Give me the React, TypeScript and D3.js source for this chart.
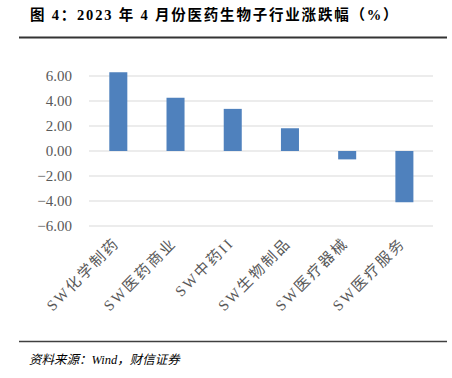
import React from "react";
import * as d3 from "d3";

const categories = ["SW化学制药", "SW医药商业", "SW中药II", "SW生物制品", "SW医疗器械", "SW医疗服务"];
const values = [6.3, 4.26, 3.37, 1.82, -0.67, -4.1];
const yTicks = [6, 4, 2, 0, -2, -4, -6];
const titleText = "图 4：2023 年 4 月份医药生物子行业涨跌幅（%）";
const sourceText = "资料来源：Wind，财信证券";

const W = 452;
const H = 378;

export default function App() {
  const x = d3
    .scaleBand<string>()
    .domain(categories)
    .range([89.7, 433])
    .paddingInner(0.685)
    .paddingOuter(0.3425);
  const y = d3.scaleLinear().domain([-6, 6]).range([226, 76]);
  const serif = "Liberation Serif, DejaVu Serif, Noto Sans CJK SC, serif";
  const grey = "#595959";

  return (
    <svg
      width={W}
      height={H}
      style={{ position: "absolute", left: 0, top: 0, background: "#fff" }}
      xmlns="http://www.w3.org/2000/svg"
    >
      <text
        x={30}
        y={20}
        fontFamily={serif}
        fontWeight="bold"
        fontSize={14.5}
        letterSpacing={1.8}
        fill="#000"
      >
        {titleText}
      </text>
      <line x1={19} x2={447} y1={37.5} y2={37.5} stroke="#333" strokeWidth={2} />

      {yTicks.map((t) => (
        <g key={t}>
          <line
            x1={89}
            x2={433}
            y1={y(t)}
            y2={y(t)}
            stroke="#D9D9D9"
            strokeWidth={1}
          />
          <text
            x={72}
            y={y(t)}
            dy="0.35em"
            textAnchor="end"
            fontFamily={serif}
            fontSize={15}
            fill={grey}
          >
            {d3.format(".2f")(t)}
          </text>
        </g>
      ))}

      {categories.map((c, i) => {
        const v = values[i];
        const x0 = x(c) as number;
        return (
          <rect
            key={c}
            x={x0}
            width={x.bandwidth()}
            y={Math.min(y(v), y(0))}
            height={Math.abs(y(v) - y(0))}
            fill="#4F81BD"
          />
        );
      })}

      {categories.map((c) => {
        const cx = (x(c) as number) + x.bandwidth() / 2;
        const ay = 244;
        return (
          <text
            key={c + "-l"}
            transform={`translate(${cx + 2},${ay}) rotate(-45)`}
            textAnchor="end"
            fontFamily={serif}
            fontSize={15}
            letterSpacing={2.2}
            fill={grey}
          >
            {c}
          </text>
        );
      })}

      <line x1={19} x2={447} y1={341.5} y2={341.5} stroke="#404040" strokeWidth={1.5} />
      <text
        x={29}
        y={364}
        fontFamily={serif}
        fontStyle="italic"
        fontSize={12.5}
        fill="#000"
      >
        {sourceText}
      </text>
    </svg>
  );
}
